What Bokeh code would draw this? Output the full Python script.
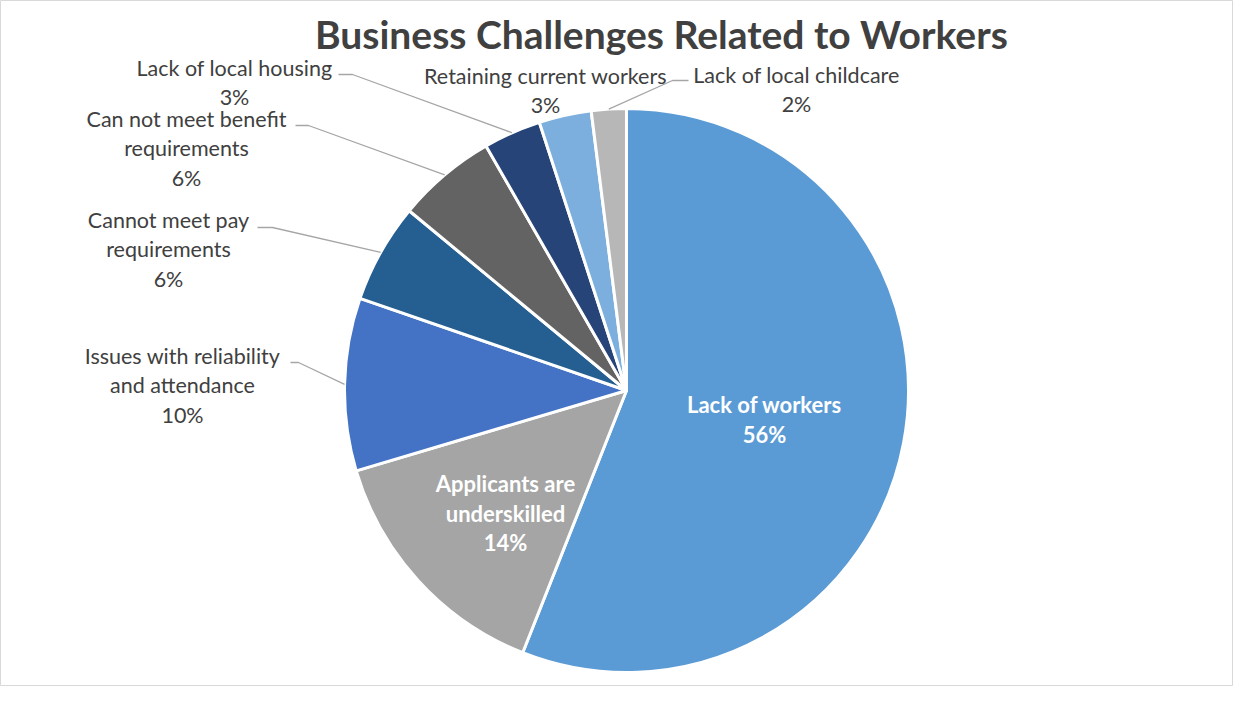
import numpy as np
from bokeh.plotting import figure
from bokeh.models import Range1d
from bokeh.embed import file_html
from bokeh.resources import INLINE
from bokeh.core.properties import value

# ---------------- data ----------------
title_text = "Business Challenges Related to Workers"
categories = [
    "Lack of workers",
    "Applicants are underskilled",
    "Issues with reliability and attendance",
    "Cannot meet pay requirements",
    "Can not meet benefit requirements",
    "Lack of local housing",
    "Retaining current workers",
    "Lack of local childcare",
]
shares = [56.0, 14.4, 9.9, 5.7, 5.7, 3.3, 3.0, 2.0]
colors = ["#5B9BD5", "#A5A5A5", "#4472C4", "#255E91", "#636363", "#264478", "#7CAFDD", "#B7B7B7"]
# how each category name is wrapped in its label
label_lines = [
    ["Lack of workers"],
    ["Applicants are", "underskilled"],
    ["Issues with reliability", "and attendance"],
    ["Cannot meet pay", "requirements"],
    ["Can not meet benefit", "requirements"],
    ["Lack of local housing"],
    ["Retaining current workers"],
    ["Lack of local childcare"],
]

# ---------------- layout (picture pixel coords) ----------------
W, H = 1233, 686
def Y(py):
    return H - py

CX, CY, R = 626, 390, 282
inside = [True, True, False, False, False, False, False, False]
label_pos = [(764, 404), (505, 483), (182, 355), (168, 219), (186, 118), (234, 67), (545, 75), (796, 74)]
LINE_STEP = 29.5
# leader: (start x, start y, elbow x) or None
leaders = [None, None, (290, 362, 298), (257, 227, 272), (295, 125, 308), (338, 74, 352), None, (688, 80, 672)]

p = figure(width=W, height=H, x_range=Range1d(0, W), y_range=Range1d(0, H),
           output_backend="svg", toolbar_location=None, min_border=0,
           x_axis_type=None, y_axis_type=None)
p.grid.visible = False
p.outline_line_color = "#D9D9D9"
p.background_fill_color = "white"
p.border_fill_color = "white"

total = sum(shares)
fr = np.array(shares) / total
cum = np.concatenate([[0], np.cumsum(fr)])
start = np.pi / 2 - 2 * np.pi * cum[:-1]
end = np.pi / 2 - 2 * np.pi * cum[1:]

p.wedge(x=CX, y=Y(CY), radius=R, start_angle=start, end_angle=end, direction="clock",
        fill_color=colors, line_color="white", line_width=3)

# leaders
for i, ld in enumerate(leaders):
    if ld is None:
        continue
    mid = (cum[i] + cum[i + 1]) / 2 * 2 * np.pi
    ex = CX + R * np.sin(mid)
    ey = CY - R * np.cos(mid)
    sx, sy, elx = ld
    p.line(x=[sx, elx, ex], y=[Y(sy), Y(sy), Y(ey)], line_color="#A6A6A6", line_width=1.3)

# labels
for i, lines in enumerate(label_lines):
    pct = f"{round(shares[i] / total * 100)}%"
    all_lines = lines + [pct]
    x0, y0 = label_pos[i]
    ys = [Y(y0 + k * LINE_STEP) for k in range(len(all_lines))]
    if inside[i]:
        p.text(x=[x0] * len(all_lines), y=ys, text=all_lines, text_align="center", text_baseline="middle",
               text_font=value("Lato"), text_font_style="bold", text_font_size="22px", text_color="white")
    else:
        p.text(x=[x0] * len(all_lines), y=ys, text=all_lines, text_align="center", text_baseline="middle",
               text_font=value("Lato"), text_font_size="21.5px", text_color="#404040")

# title
p.text(x=[661], y=[Y(33)], text=[title_text], text_align="center", text_baseline="middle",
       text_font=value("Lato"), text_font_style="bold", text_font_size="39px", text_color="#404040")

open("out.html", "w").write(file_html(p, INLINE))
